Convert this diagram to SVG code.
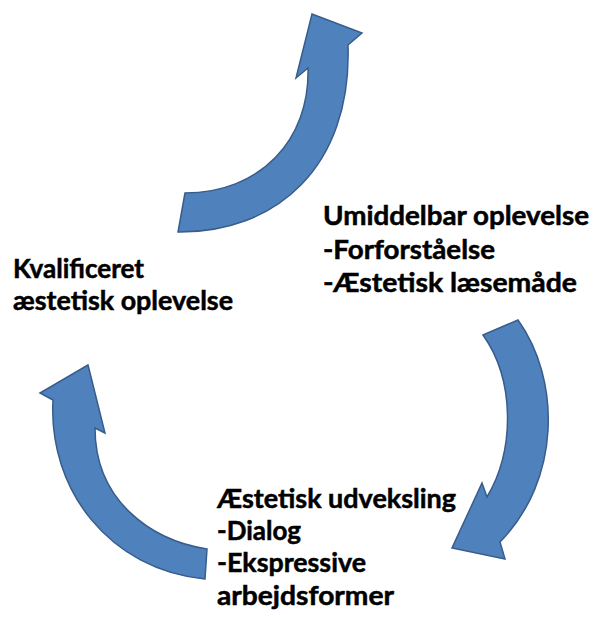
<svg xmlns="http://www.w3.org/2000/svg" width="596" height="621" viewBox="0 0 596 621">
  <style>
    .arrow { fill: #4F81BD; stroke: #385D8A; stroke-width: 1.5; stroke-linejoin: miter; }
    .label { font-family: Lato, "Open Sans", "Liberation Sans", sans-serif; font-weight: bold; font-size: 26px; fill: #000000; stroke: #000000; stroke-width: 0.5; }
  </style>
  <rect width="596" height="621" fill="#ffffff"/>

  <!-- curved cycle arrows -->
  <g id="connectors">
    <!-- top arrow: from left label up towards the top -->
    <path id="arrow-top" class="arrow" d="M185,193 L178,232 C275,233 352,168 348,45 L362,33 L312,14 L296,78 L308,68 C310,140 260,193 185,193 Z"/>
    <!-- right arrow: from upper right label down to the bottom label -->
    <path id="arrow-right" class="arrow" d="M483,335 L518,320 C561,380 561,480 500,542 L505,559 L452,548 L482,483 L487,497 C515,450 515,380 483,335 Z"/>
    <!-- left arrow: from bottom label up to the left label -->
    <path id="arrow-left" class="arrow" d="M207,549 L205,579 C110,570 48,490 53,400 L40,393 L88,365 L105,433 L95,428 C95,500 150,540 207,549 Z"/>
  </g>

  <g id="node-umiddelbar">
    <text class="label" x="323" y="225" textLength="266" lengthAdjust="spacingAndGlyphs">Umiddelbar oplevelse</text>
    <text class="label" x="323" y="259" textLength="172" lengthAdjust="spacingAndGlyphs">-Forforståelse</text>
    <text class="label" x="323" y="292" textLength="254" lengthAdjust="spacingAndGlyphs">-Æstetisk læsemåde</text>
  </g>

  <g id="node-udveksling">
    <text class="label" x="217" y="508" textLength="239" lengthAdjust="spacingAndGlyphs">Æstetisk udveksling</text>
    <text class="label" x="217" y="540" textLength="84" lengthAdjust="spacingAndGlyphs">-Dialog</text>
    <text class="label" x="217" y="572" textLength="149" lengthAdjust="spacingAndGlyphs">-Ekspressive</text>
    <text class="label" x="217" y="605" textLength="177" lengthAdjust="spacingAndGlyphs">arbejdsformer</text>
  </g>

  <g id="node-kvalificeret">
    <text class="label" x="13" y="278" textLength="131" lengthAdjust="spacingAndGlyphs">Kvalificeret</text>
    <text class="label" x="13" y="310" textLength="220" lengthAdjust="spacingAndGlyphs">æstetisk oplevelse</text>
  </g>
</svg>
